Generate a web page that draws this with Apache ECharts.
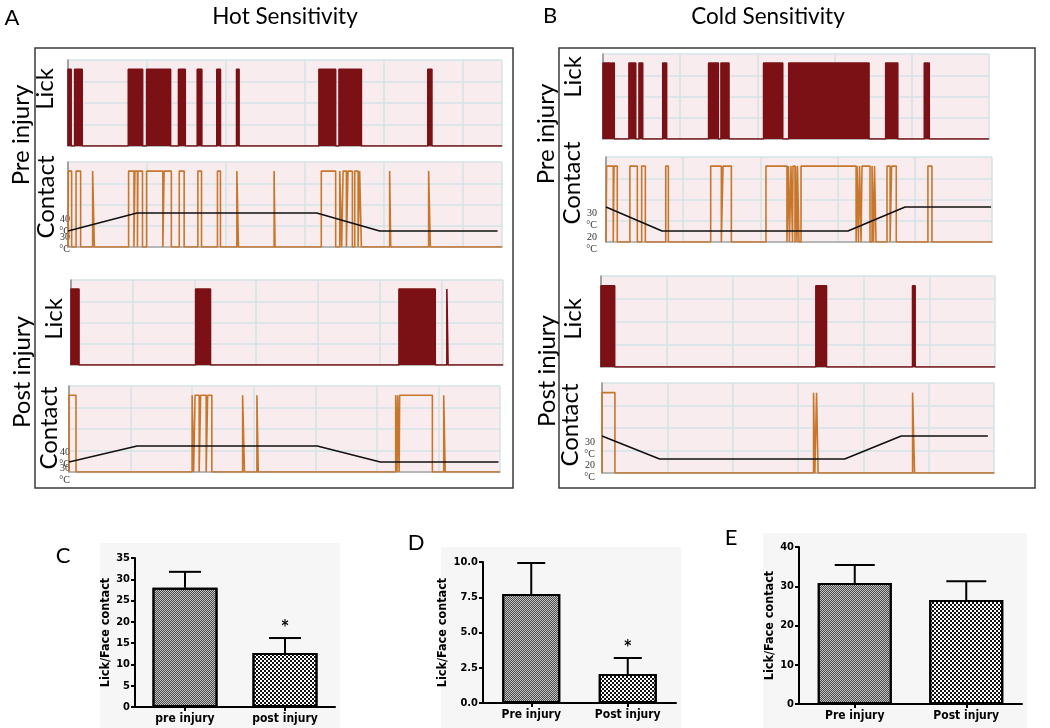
<!DOCTYPE html>
<html><head><meta charset="utf-8">
<script src="https://cdn.jsdelivr.net/npm/echarts@6/dist/echarts.min.js"></script>
<style>html,body{margin:0;padding:0;background:#fff}#c{width:1050px;height:728px}</style>
</head><body><div id="c"></div>
<script>
// ---------- Trace data: behaviour intervals [start, end] (s) ----------
const hotPreLick = [[0,2],[4.2,9],[38.2,47.3],[49.8,65],[70,74.3],[81.9,84.8],[94.3,96.6],[106.8,108.4],[159,169.6],[171.7,185.9],[228,230.6]];
const hotPreContact = [[0.2,2.3],[5.1,8],[15.6,16.7],[38.4,41.8],[42.4,44],[44.3,47.2],[49.8,60.1],[60.9,65.5],[70.5,73.6],[82.3,84.6],[94.7,96.6],[107,108],[130.6,131.2],[160.5,169.6],[172.2,173.4],[174.3,176.4],[177.4,180.2],[181.7,183.8],[184.8,185.9],[203.8,204.5],[228.5,229.6]];
const hotPreTemp = [[0,30],[43.7,40],[157.6,40],[197.5,30],[272.2,30]];

const hotPostLick = [[0,6.5],[101,113],[265.7,295.1],[304.5,305.5]];
const hotPostContact = [[0,5.7],[100,101.2],[102.4,105.7],[106.9,111.4],[112.6,116],[141,142.5],[152.6,153.7],[265.3,266.4],[266.9,268.1],[268.5,295.1],[304.3,305.5]];
const hotPostTemp = [[0,30],[55.3,40],[201.6,40],[252.8,30],[348.8,30]];

const coldPreLick = [[0,5],[5.8,7.3],[16.8,21.2],[23.3,25.7],[38.7,41.2],[68.4,74.7],[76.4,81.6],[104,116.4],[120.3,172.3],[183.1,190.9],[208.1,211.3]];
const coldPreContact = [[0.4,4.7],[5.2,7.3],[15.5,20.3],[23.1,25.5],[38.7,40.4],[67.8,74.7],[75.8,81.2],[103.6,117.2],[118.2,118.8],[119.8,120.8],[121.1,122.4],[122.7,123.7],[124,125],[126.3,162],[162.6,163.5],[164.2,165.2],[165.8,171],[172.3,173.3],[173.9,174.9],[182,184],[185,188],[208.5,211.1]];
const coldPreTemp = [[0,30],[36.3,20],[156.7,20],[193.7,30],[249.4,30]];

const coldPostLick = [[0,10.4],[163.6,171.7],[237.2,239.2]];
const coldPostContact = [[0,9.9],[161.9,162.9],[164.2,165.4],[237.7,239.2]];
const coldPostTemp = [[0,30],[44.1,20],[185.7,20],[229,30],[295.3,30]];

const hotTempTicks = [30,40];
const coldTempTicks = [20,30];

// ---------- Bar data ----------
const catsC = ['pre injury','post injury'];
const meansC = [28, 12.7];
const errsC = [3.75, 3.5];
const sigC = ['', '*'];
const catsD = ['Pre injury','Post injury'];
const meansD = [7.73, 2.06];
const errsD = [2.2, 1.13];
const sigD = ['', '*'];
const catsE = ['Pre injury','Post injury'];
const meansE = [30.8, 26.5];
const errsE = [4.6, 4.8];
const sigE = ['', ''];

// ---------- styling ----------
const LICK = '#7b1115', CONTACT = '#c8762b', BG = '#f9ecef', GRIDC = '#d5e3e6';
const TFONT = 'Lato, "Open Sans", sans-serif';
const BFONT = '"Liberation Sans Narrow","DejaVu Sans Condensed","Liberation Sans",Arial,sans-serif';

const grids=[], xAxes=[], yAxes=[], series=[];

function stepData(intervals, xMax){
  const pts=[[0,0]];
  intervals.forEach(([s,e])=>{pts.push([s,0],[s,1],[e,1],[e,0]);});
  pts.push([xMax,0]);
  return pts;
}

function addTrace(box, xMax, kind, intervals, temp, tempRange, tempTicks, tempMargin){
  const gi = grids.length;
  grids.push({left:box[0], top:box[1], width:box[2], height:box[3], show:true, backgroundColor:BG, borderWidth:0});
  xAxes.push({gridIndex:gi, type:'value', min:0, max:xMax, interval:50,
    axisLabel:{show:false}, axisTick:{show:false},
    axisLine:{show:true, lineStyle:{color:'#a8a8a8', width:1.5}},
    splitLine:{show:true, lineStyle:{color:GRIDC, width:1.5}}});
  const yi = yAxes.length;
  yAxes.push({gridIndex:gi, type:'value', min:0, max:1.12, interval:0.28,
    axisLabel:{show:false}, axisTick:{show:false},
    axisLine:{show:true, lineStyle:{color:'#8c8c8c', width:1.5}},
    splitLine:{show:true, lineStyle:{color:GRIDC, width:1.5}}});
  const s = {type:'line', xAxisIndex:gi, yAxisIndex:yi, data:stepData(intervals,xMax),
    symbol:'none', showSymbol:false, silent:true, z:3,
    lineStyle:{color: kind==='lick'?LICK:CONTACT, width:1.6}};
  if(kind==='lick') s.areaStyle = {color:LICK, opacity:1};
  series.push(s);
  if(temp){
    let first = -1;
    tempTicks.forEach((tv)=>{
      const ti = yAxes.length;
      if(first<0) first = ti;
      yAxes.push({gridIndex:gi, type:'value', position:'left', min:tempRange[0], max:tempRange[1],
        axisLine:{show:false}, axisTick:{show:false}, splitLine:{show:false},
        axisLabel:{show:true, hideOverlap:false, customValues:[tv],
          formatter:(v)=>v+'\n°C', fontSize:10, lineHeight:12,
          color:'#333', verticalAlign:'top', margin:tempMargin, fontFamily:'"Liberation Serif","DejaVu Serif",serif'}});
    });
    series.push({type:'line', xAxisIndex:gi, yAxisIndex:first, data:temp, symbol:'none', silent:true, z:5,
      lineStyle:{color:'#111', width:1.6}});
  }
}

const preStyle = {color:'#c4c4c4', borderColor:'#000', borderWidth:2,
  decal:{symbol:'rect', symbolSize:1, color:'#4a4a4a', dashArrayX:[[1,1],[0,1,1,0]], dashArrayY:[1,0]}};
const postStyle = {color:'#ffffff', borderColor:'#000', borderWidth:2,
  decal:{symbol:'rect', symbolSize:1, color:'#111', dashArrayX:[[2,2],[0,2,2,0]], dashArrayY:[2,0]}};

function addBar(box, cats, means, errs, sigs, yMax, yInt, yFmt, barW, capHalf, nameGap){
  const gi = grids.length;
  grids.push({left:box[0], top:box[1], width:box[2], height:box[3], show:false});
  const xi = xAxes.length;
  xAxes.push({gridIndex:gi, type:'category', data:cats,
    axisLine:{show:true, lineStyle:{color:'#000', width:2}},
    axisTick:{show:true, alignWithLabel:true, length:4, lineStyle:{color:'#000', width:2}},
    axisLabel:{color:'#000', fontWeight:'bold', fontSize:12, margin:6, fontFamily:BFONT},
    splitLine:{show:false}});
  const yi = yAxes.length;
  yAxes.push({gridIndex:gi, type:'value', min:0, max:yMax, interval:yInt,
    name:'Lick/Face contact', nameLocation:'middle', nameGap:nameGap,
    nameTextStyle:{color:'#000', fontWeight:'bold', fontSize:12.5, fontFamily:BFONT},
    axisLine:{show:true, lineStyle:{color:'#000', width:2}},
    axisTick:{show:true, length:4, lineStyle:{color:'#000', width:2}},
    axisLabel:{color:'#000', fontWeight:'bold', fontSize:11, margin:5, fontFamily:BFONT, formatter:yFmt},
    splitLine:{show:false}});
  series.push({type:'bar', xAxisIndex:xi, yAxisIndex:yi, barWidth:barW, silent:true, z:2,
    data: means.map((m,i)=>({value:m, itemStyle: i===0?preStyle:postStyle}))});
  series.push({type:'custom', xAxisIndex:xi, yAxisIndex:yi, silent:true, z:1,
    data: means.map((m,i)=>[i,m,errs[i]]),
    renderItem:(params, api)=>{
      const x=api.value(0), m=api.value(1), e=api.value(2);
      const p0=api.coord([x,m]), p1=api.coord([x,m+e]);
      const ch=[
        {type:'line', shape:{x1:p0[0],y1:p0[1],x2:p1[0],y2:p1[1]}, style:{stroke:'#000', lineWidth:2}},
        {type:'line', shape:{x1:p1[0]-capHalf,y1:p1[1],x2:p1[0]+capHalf,y2:p1[1]}, style:{stroke:'#000', lineWidth:2}}
      ];
      const sg = sigs[params.dataIndex];
      if(sg) ch.push({type:'text', x:p1[0], y:p1[1]-3, style:{text:sg, fill:'#000', font:'bold 15px '+BFONT, textAlign:'center', textVerticalAlign:'bottom'}});
      return {type:'group', children:ch};
    }});
}

// Panel A (hot)
addTrace([68,60,434,86], 275, 'lick', hotPreLick);
addTrace([68,162,434,85], 275, 'contact', hotPreContact, hotPreTemp, [21.11,68.33], hotTempTicks, -2);
addTrace([71,280,432,85], 350, 'lick', hotPostLick);
addTrace([69,386,431,86], 350, 'contact', hotPostContact, hotPostTemp, [23.75,77.5], hotTempTicks, -1);
// Panel B (cold)
addTrace([603,54,386,85], 250, 'lick', coldPreLick);
addTrace([606,157,386,85], 250, 'contact', coldPreContact, coldPreTemp, [15.42,50.83], coldTempTicks, 9);
addTrace([601,276,394,91], 300, 'lick', coldPostLick);
addTrace([602,383,392,90], 300, 'contact', coldPostContact, coldPostTemp, [13.91,53.04], coldTempTicks, 7);
// Panels C, D, E
addBar([135,558,200,149], catsC, meansC, errsC, sigC, 35, 5, (v)=>String(v), 65, 16, 16);
addBar([483,562,193,141], catsD, meansD, errsD, sigD, 10, 2.5, (v)=>v.toFixed(1), 58, 14, 22);
addBar([799,547,223,157], catsE, meansE, errsE, sigE, 40, 10, (v)=>String(v), 74, 20, 20);

function txt(x,y,t,size,rot){
  return {type:'text', x:x, y:y, rotation: rot?Math.PI/2:0, z:10,
    style:{text:t, fill:'#000', font:size+'px '+TFONT, textAlign:'center', textVerticalAlign:'middle'}};
}
const graphic = [
  {type:'rect', shape:{x:100,y:543,width:240,height:185}, style:{fill:'#f6f6f6'}, z:-5},
  {type:'rect', shape:{x:441,y:547,width:240,height:181}, style:{fill:'#f6f6f6'}, z:-5},
  {type:'rect', shape:{x:763,y:533,width:264,height:195}, style:{fill:'#f6f6f6'}, z:-5},
  {type:'rect', shape:{x:35,y:48,width:478,height:440}, style:{fill:null, stroke:'#3a3a3a', lineWidth:1.5}, z:10},
  {type:'rect', shape:{x:559,y:48,width:476,height:440}, style:{fill:null, stroke:'#3a3a3a', lineWidth:1.5}, z:10},
  txt(12,18,'A',22), txt(285,17,'Hot Sensitivity',22.5),
  txt(550,16,'B',22), txt(768,17,'Cold Sensitivity',22.5),
  txt(21,135,'Pre injury',24,true), txt(45,89,'Lick',24,true), txt(46,197,'Contact',24,true),
  txt(22,372,'Post injury',24,true), txt(54,319,'Lick',24,true), txt(49,428,'Contact',24,true),
  txt(546,134,'Pre injury',24,true), txt(573,77,'Lick',24,true), txt(572,183,'Contact',24,true),
  txt(547,371,'Post injury',24,true), txt(573,319,'Lick',24,true), txt(570,425,'Contact',24,true),
  txt(63,556,'C',22), txt(416,543,'D',22), txt(731,538,'E',22)
];

const chart = echarts.init(document.getElementById('c'), null, {renderer:'canvas'});
chart.setOption({animation:false, backgroundColor:'#fff', grid:grids, xAxis:xAxes, yAxis:yAxes, series:series, graphic:graphic});
</script></body></html>
